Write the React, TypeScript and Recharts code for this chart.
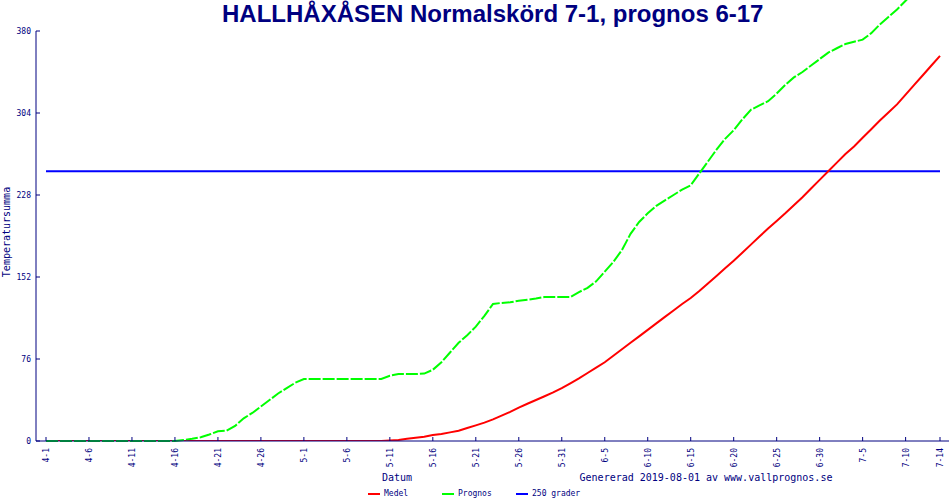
import React from "react";
import { LineChart, Line, XAxis, YAxis } from "recharts";

const NAVY = "#000080";
const MONO = "'DejaVu Sans Mono', monospace";

// x positions are day numbers counted from 4-1
const TICK_DAYS = [0, 5, 10, 15, 20, 25, 30, 35, 40, 45, 50, 55, 60, 65, 70, 75, 80, 85, 90, 95, 100, 104];
const TICK_LABELS = [
  "4-1", "4-6", "4-11", "4-16", "4-21", "4-26", "5-1", "5-6", "5-11", "5-16", "5-21",
  "5-26", "5-31", "6-5", "6-10", "6-15", "6-20", "6-25", "6-30", "7-5", "7-10", "7-14",
];
const Y_TICKS = [0, 76, 152, 228, 304, 380];

// daily temperature sums, one value per day from 4-1 to 7-14
const MEDEL = [
  0, 0, 0, 0, 0, 0, 0, 0, 0, 0,
  0, 0, 0, 0, 0, 0, 0, 0, 0, 0,
  0, 0, 0, 0, 0, 0, 0, 0, 0, 0,
  0, 0, 0, 0, 0, 0, 0, 0, 0, 0,
  0.5, 1, 2, 3, 4, 5.5, 6.5, 8, 9.5, 12,
  14.5, 17, 20, 23.5, 27, 31, 34.5, 38, 41.5, 45,
  49, 53.5, 58, 63, 68, 73, 79, 85, 91, 97,
  103, 109, 115, 121, 127, 132.5, 139, 146, 153, 160,
  167, 174.5, 182, 189.5, 197, 204, 211, 218.5, 226, 234,
  242, 250, 258, 266, 273, 281, 289, 297, 304.5, 312,
  321, 330, 339, 348, 357,
];

// prognosis, stops where it leaves the top of the picture
const PROGNOS = [
  0, 0, 0, 0, 0, 0, 0, 0, 0, 0,
  0, 0, 0, 0, 0, 0, 1, 2, 3.5, 6,
  9, 9.5, 14, 21, 26, 32, 38, 44, 49, 54,
  57.5, 57.5, 57.5, 57.5, 57.5, 57.5, 57.5, 57.5, 57.5, 57.5,
  60.5, 62, 62, 62, 62.5, 66, 73, 82, 91, 98,
  106, 116, 127, 128, 128.5, 130, 131, 132, 133.5, 133.5,
  133.5, 133.5, 138, 142, 148, 157, 166, 177, 192, 203,
  211, 218, 223, 228, 233, 237, 248, 259, 270, 280,
  288, 298, 307, 311, 315, 322, 330, 337, 342, 348,
  354, 360, 364, 368, 370, 372, 378, 386, 393, 400,
  408, 416,
];

const GRADER = 250;

const SERIES = [
  { key: "medel", name: "Medel", color: "#ff0000" },
  { key: "prognos", name: "Prognos", color: "#00ff00" },
  { key: "grader", name: "250 grader", color: "#0000ff" },
];

const rows = MEDEL.map((medel, day) => ({
  day,
  medel,
  prognos: day < PROGNOS.length ? PROGNOS[day] : null,
  grader: GRADER,
}));

function DateTick(props: any) {
  const { x, y, payload } = props;
  const label = TICK_LABELS[TICK_DAYS.indexOf(payload.value)];
  return (
    <text
      x={x}
      y={y}
      dy={3}
      transform={`rotate(-90 ${x} ${y})`}
      textAnchor="end"
      fontSize={8}
      fontFamily={MONO}
      fill={NAVY}
    >
      {label}
    </text>
  );
}

const smallText: React.CSSProperties = {
  position: "absolute",
  fontFamily: MONO,
  color: NAVY,
  whiteSpace: "nowrap",
  lineHeight: 1,
};

export default function App() {
  return (
    <div style={{ position: "absolute", left: 0, top: 0, width: 950, height: 500, background: "#fff" }}>
      <style>{`.prognos-line, .prognos-line path { clip-path: none !important; }`}</style>
      <LineChart width={950} height={500} data={rows} margin={{ top: 31, right: 1, left: 0, bottom: 0 }}>
        <XAxis
          dataKey="day"
          type="number"
          domain={[0, 104]}
          ticks={TICK_DAYS}
          interval={0}
          padding={{ left: 10, right: 9 }}
          height={59}
          tickSize={-4}
          tickMargin={11}
          tick={<DateTick />}
          stroke={NAVY}
        />
        <XAxis
          xAxisId="top"
          orientation="top"
          dataKey="day"
          type="number"
          domain={[0, 104]}
          height={0}
          tick={false}
          tickLine={false}
          stroke={NAVY}
        />
        <YAxis
          type="number"
          domain={[0, 380]}
          allowDataOverflow
          ticks={Y_TICKS}
          interval={0}
          width={36}
          tickSize={-4}
          tickMargin={9}
          tick={{ fontSize: 8, fontFamily: MONO, fill: NAVY }}
          stroke={NAVY}
        />
        <YAxis
          yAxisId="right"
          orientation="right"
          domain={[0, 380]}
          width={0}
          tick={false}
          tickLine={false}
          stroke={NAVY}
        />
        <Line
          dataKey="grader"
          type="linear"
          stroke="#0000ff"
          strokeWidth={2}
          dot={false}
          activeDot={false}
          isAnimationActive={false}
        />
        <Line
          dataKey="medel"
          type="linear"
          stroke="#ff0000"
          strokeWidth={2}
          dot={false}
          activeDot={false}
          isAnimationActive={false}
        />
        <Line
          className="prognos-line"
          dataKey="prognos"
          type="linear"
          stroke="#00ff00"
          strokeWidth={2}
          strokeDasharray="12 2"
          dot={false}
          activeDot={false}
          isAnimationActive={false}
        />
      </LineChart>

      <div
        style={{
          position: "absolute",
          left: 222,
          top: 1,
          fontFamily: "'Liberation Sans', Arial, sans-serif",
          fontWeight: "bold",
          fontSize: 24,
          lineHeight: "26px",
          color: NAVY,
          whiteSpace: "nowrap",
        }}
      >
        HALLHÅXÅSEN Normalskörd 7-1, prognos 6-17
      </div>

      <div
        style={{
          ...smallText,
          fontSize: 10,
          left: 7,
          top: 232,
          transform: "translate(-50%, -50%) rotate(-90deg)",
        }}
      >
        Temperatursumma
      </div>

      <div style={{ ...smallText, fontSize: 10, left: 397, top: 478, transform: "translate(-50%, -50%)" }}>
        Datum
      </div>
      <div style={{ ...smallText, fontSize: 10, left: 706, top: 478, transform: "translate(-50%, -50%)" }}>
        Genererad 2019-08-01 av www.vallprognos.se
      </div>

      {SERIES.map((s, i) => (
        <div
          key={s.key}
          style={{
            ...smallText,
            fontSize: 8,
            left: 368 + i * 74,
            top: 494,
            transform: "translateY(-50%)",
            display: "flex",
            alignItems: "center",
          }}
        >
          <span style={{ display: "inline-block", width: 12, height: 2, background: s.color, marginRight: 4 }} />
          {s.name}
        </div>
      ))}
    </div>
  );
}
